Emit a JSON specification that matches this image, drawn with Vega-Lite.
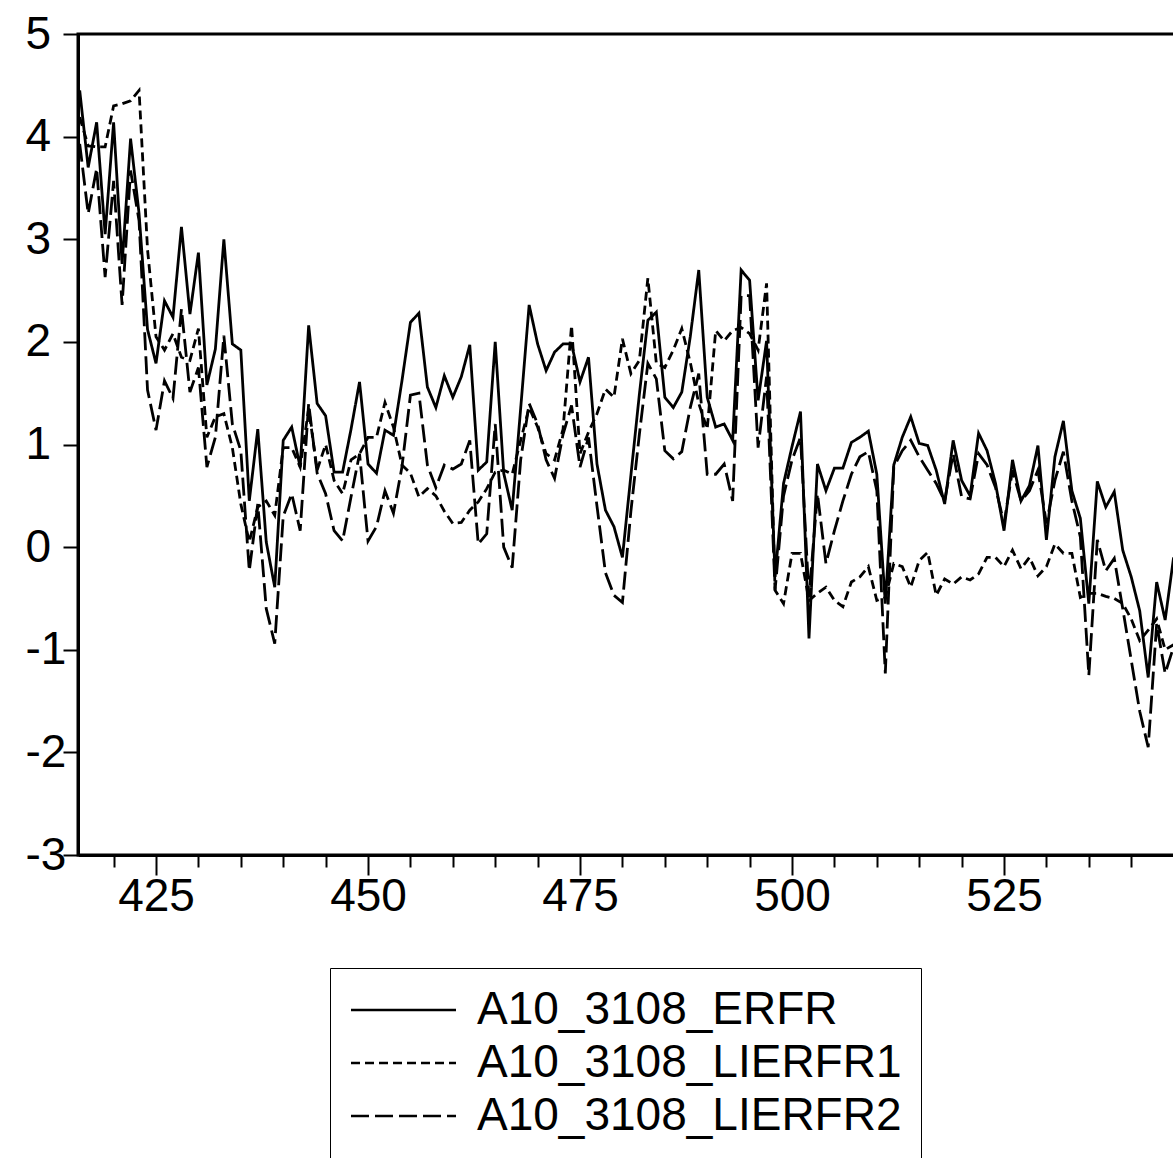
{
"$schema": "https://vega.github.io/schema/vega-lite/v6.json",
"width": 1098, "height": 821,
"autosize": {"type": "none"},
"padding": {"left": 78, "top": 34, "right": -3, "bottom": 303},
"background": "white",
"config": {"view": {"stroke": "black", "strokeWidth": 3}, "font": "Liberation Sans"},
"data": {"values": [
{"obs":416,"A10_3108_ERFR":4.45,"A10_3108_LIERFR1":4.19,"A10_3108_LIERFR2":3.93},
{"obs":417,"A10_3108_ERFR":3.70,"A10_3108_LIERFR1":3.91,"A10_3108_LIERFR2":3.25},
{"obs":418,"A10_3108_ERFR":4.14,"A10_3108_LIERFR1":3.90,"A10_3108_LIERFR2":3.69},
{"obs":419,"A10_3108_ERFR":3.05,"A10_3108_LIERFR1":3.90,"A10_3108_LIERFR2":2.63},
{"obs":420,"A10_3108_ERFR":4.14,"A10_3108_LIERFR1":4.30,"A10_3108_LIERFR2":3.57},
{"obs":421,"A10_3108_ERFR":2.76,"A10_3108_LIERFR1":4.32,"A10_3108_LIERFR2":2.36},
{"obs":422,"A10_3108_ERFR":3.98,"A10_3108_LIERFR1":4.35,"A10_3108_LIERFR2":3.67},
{"obs":423,"A10_3108_ERFR":3.25,"A10_3108_LIERFR1":4.45,"A10_3108_LIERFR2":3.18},
{"obs":424,"A10_3108_ERFR":2.12,"A10_3108_LIERFR1":2.90,"A10_3108_LIERFR2":1.53},
{"obs":425,"A10_3108_ERFR":1.79,"A10_3108_LIERFR1":2.05,"A10_3108_LIERFR2":1.14},
{"obs":426,"A10_3108_ERFR":2.40,"A10_3108_LIERFR1":1.92,"A10_3108_LIERFR2":1.62},
{"obs":427,"A10_3108_ERFR":2.24,"A10_3108_LIERFR1":2.08,"A10_3108_LIERFR2":1.45},
{"obs":428,"A10_3108_ERFR":3.12,"A10_3108_LIERFR1":1.85,"A10_3108_LIERFR2":2.32},
{"obs":429,"A10_3108_ERFR":2.27,"A10_3108_LIERFR1":1.82,"A10_3108_LIERFR2":1.51},
{"obs":430,"A10_3108_ERFR":2.87,"A10_3108_LIERFR1":2.13,"A10_3108_LIERFR2":1.75},
{"obs":431,"A10_3108_ERFR":1.58,"A10_3108_LIERFR1":1.07,"A10_3108_LIERFR2":0.78},
{"obs":432,"A10_3108_ERFR":1.93,"A10_3108_LIERFR1":1.27,"A10_3108_LIERFR2":1.07},
{"obs":433,"A10_3108_ERFR":3.00,"A10_3108_LIERFR1":1.30,"A10_3108_LIERFR2":2.06},
{"obs":434,"A10_3108_ERFR":1.98,"A10_3108_LIERFR1":0.97,"A10_3108_LIERFR2":1.20},
{"obs":435,"A10_3108_ERFR":1.92,"A10_3108_LIERFR1":0.42,"A10_3108_LIERFR2":0.94},
{"obs":436,"A10_3108_ERFR":0.45,"A10_3108_LIERFR1":0.05,"A10_3108_LIERFR2":-0.23},
{"obs":437,"A10_3108_ERFR":1.15,"A10_3108_LIERFR1":0.39,"A10_3108_LIERFR2":0.42},
{"obs":438,"A10_3108_ERFR":0.05,"A10_3108_LIERFR1":0.45,"A10_3108_LIERFR2":-0.60},
{"obs":439,"A10_3108_ERFR":-0.39,"A10_3108_LIERFR1":0.31,"A10_3108_LIERFR2":-0.94},
{"obs":440,"A10_3108_ERFR":1.04,"A10_3108_LIERFR1":0.97,"A10_3108_LIERFR2":0.30},
{"obs":441,"A10_3108_ERFR":1.17,"A10_3108_LIERFR1":0.97,"A10_3108_LIERFR2":0.52},
{"obs":442,"A10_3108_ERFR":0.78,"A10_3108_LIERFR1":0.78,"A10_3108_LIERFR2":0.16},
{"obs":443,"A10_3108_ERFR":2.16,"A10_3108_LIERFR1":1.35,"A10_3108_LIERFR2":1.40},
{"obs":444,"A10_3108_ERFR":1.40,"A10_3108_LIERFR1":0.75,"A10_3108_LIERFR2":0.72},
{"obs":445,"A10_3108_ERFR":1.28,"A10_3108_LIERFR1":1.00,"A10_3108_LIERFR2":0.52},
{"obs":446,"A10_3108_ERFR":0.73,"A10_3108_LIERFR1":0.65,"A10_3108_LIERFR2":0.16},
{"obs":447,"A10_3108_ERFR":0.73,"A10_3108_LIERFR1":0.52,"A10_3108_LIERFR2":0.06},
{"obs":448,"A10_3108_ERFR":1.15,"A10_3108_LIERFR1":0.85,"A10_3108_LIERFR2":0.49},
{"obs":449,"A10_3108_ERFR":1.61,"A10_3108_LIERFR1":0.91,"A10_3108_LIERFR2":0.91},
{"obs":450,"A10_3108_ERFR":0.81,"A10_3108_LIERFR1":1.07,"A10_3108_LIERFR2":0.06},
{"obs":451,"A10_3108_ERFR":0.72,"A10_3108_LIERFR1":1.07,"A10_3108_LIERFR2":0.20},
{"obs":452,"A10_3108_ERFR":1.14,"A10_3108_LIERFR1":1.41,"A10_3108_LIERFR2":0.55},
{"obs":453,"A10_3108_ERFR":1.09,"A10_3108_LIERFR1":1.17,"A10_3108_LIERFR2":0.33},
{"obs":454,"A10_3108_ERFR":1.62,"A10_3108_LIERFR1":0.80,"A10_3108_LIERFR2":0.78},
{"obs":455,"A10_3108_ERFR":2.19,"A10_3108_LIERFR1":0.72,"A10_3108_LIERFR2":1.48},
{"obs":456,"A10_3108_ERFR":2.28,"A10_3108_LIERFR1":0.49,"A10_3108_LIERFR2":1.50},
{"obs":457,"A10_3108_ERFR":1.56,"A10_3108_LIERFR1":0.57,"A10_3108_LIERFR2":0.80},
{"obs":458,"A10_3108_ERFR":1.36,"A10_3108_LIERFR1":0.50,"A10_3108_LIERFR2":0.58},
{"obs":459,"A10_3108_ERFR":1.67,"A10_3108_LIERFR1":0.35,"A10_3108_LIERFR2":0.80},
{"obs":460,"A10_3108_ERFR":1.46,"A10_3108_LIERFR1":0.23,"A10_3108_LIERFR2":0.76},
{"obs":461,"A10_3108_ERFR":1.66,"A10_3108_LIERFR1":0.24,"A10_3108_LIERFR2":0.81},
{"obs":462,"A10_3108_ERFR":1.97,"A10_3108_LIERFR1":0.36,"A10_3108_LIERFR2":1.04},
{"obs":463,"A10_3108_ERFR":0.75,"A10_3108_LIERFR1":0.44,"A10_3108_LIERFR2":0.03},
{"obs":464,"A10_3108_ERFR":0.83,"A10_3108_LIERFR1":0.57,"A10_3108_LIERFR2":0.13},
{"obs":465,"A10_3108_ERFR":2.00,"A10_3108_LIERFR1":0.73,"A10_3108_LIERFR2":1.20},
{"obs":466,"A10_3108_ERFR":0.72,"A10_3108_LIERFR1":0.75,"A10_3108_LIERFR2":0.00},
{"obs":467,"A10_3108_ERFR":0.36,"A10_3108_LIERFR1":0.71,"A10_3108_LIERFR2":-0.20},
{"obs":468,"A10_3108_ERFR":1.35,"A10_3108_LIERFR1":1.04,"A10_3108_LIERFR2":0.85},
{"obs":469,"A10_3108_ERFR":2.36,"A10_3108_LIERFR1":1.36,"A10_3108_LIERFR2":1.40},
{"obs":470,"A10_3108_ERFR":1.98,"A10_3108_LIERFR1":1.17,"A10_3108_LIERFR2":1.20},
{"obs":471,"A10_3108_ERFR":1.72,"A10_3108_LIERFR1":0.91,"A10_3108_LIERFR2":0.85},
{"obs":472,"A10_3108_ERFR":1.90,"A10_3108_LIERFR1":0.85,"A10_3108_LIERFR2":0.67},
{"obs":473,"A10_3108_ERFR":1.98,"A10_3108_LIERFR1":1.15,"A10_3108_LIERFR2":1.10},
{"obs":474,"A10_3108_ERFR":1.98,"A10_3108_LIERFR1":2.16,"A10_3108_LIERFR2":1.38},
{"obs":475,"A10_3108_ERFR":1.61,"A10_3108_LIERFR1":0.91,"A10_3108_LIERFR2":0.78},
{"obs":476,"A10_3108_ERFR":1.85,"A10_3108_LIERFR1":1.12,"A10_3108_LIERFR2":1.07},
{"obs":477,"A10_3108_ERFR":0.81,"A10_3108_LIERFR1":1.30,"A10_3108_LIERFR2":0.40},
{"obs":478,"A10_3108_ERFR":0.36,"A10_3108_LIERFR1":1.54,"A10_3108_LIERFR2":-0.25},
{"obs":479,"A10_3108_ERFR":0.20,"A10_3108_LIERFR1":1.46,"A10_3108_LIERFR2":-0.47},
{"obs":480,"A10_3108_ERFR":-0.10,"A10_3108_LIERFR1":2.03,"A10_3108_LIERFR2":-0.54},
{"obs":481,"A10_3108_ERFR":0.70,"A10_3108_LIERFR1":1.69,"A10_3108_LIERFR2":0.35},
{"obs":482,"A10_3108_ERFR":1.49,"A10_3108_LIERFR1":1.82,"A10_3108_LIERFR2":1.10},
{"obs":483,"A10_3108_ERFR":2.21,"A10_3108_LIERFR1":2.62,"A10_3108_LIERFR2":1.79},
{"obs":484,"A10_3108_ERFR":2.29,"A10_3108_LIERFR1":1.79,"A10_3108_LIERFR2":1.64},
{"obs":485,"A10_3108_ERFR":1.46,"A10_3108_LIERFR1":1.75,"A10_3108_LIERFR2":0.94},
{"obs":486,"A10_3108_ERFR":1.36,"A10_3108_LIERFR1":1.92,"A10_3108_LIERFR2":0.86},
{"obs":487,"A10_3108_ERFR":1.51,"A10_3108_LIERFR1":2.13,"A10_3108_LIERFR2":0.93},
{"obs":488,"A10_3108_ERFR":2.05,"A10_3108_LIERFR1":1.80,"A10_3108_LIERFR2":1.36},
{"obs":489,"A10_3108_ERFR":2.70,"A10_3108_LIERFR1":1.40,"A10_3108_LIERFR2":1.69},
{"obs":490,"A10_3108_ERFR":1.46,"A10_3108_LIERFR1":1.15,"A10_3108_LIERFR2":0.71},
{"obs":491,"A10_3108_ERFR":1.17,"A10_3108_LIERFR1":2.11,"A10_3108_LIERFR2":0.71},
{"obs":492,"A10_3108_ERFR":1.20,"A10_3108_LIERFR1":2.01,"A10_3108_LIERFR2":0.81},
{"obs":493,"A10_3108_ERFR":1.04,"A10_3108_LIERFR1":2.11,"A10_3108_LIERFR2":0.45},
{"obs":494,"A10_3108_ERFR":2.70,"A10_3108_LIERFR1":2.14,"A10_3108_LIERFR2":2.45},
{"obs":495,"A10_3108_ERFR":2.60,"A10_3108_LIERFR1":2.08,"A10_3108_LIERFR2":2.45},
{"obs":496,"A10_3108_ERFR":1.43,"A10_3108_LIERFR1":1.92,"A10_3108_LIERFR2":0.97},
{"obs":497,"A10_3108_ERFR":2.01,"A10_3108_LIERFR1":2.57,"A10_3108_LIERFR2":1.66},
{"obs":498,"A10_3108_ERFR":-0.29,"A10_3108_LIERFR1":-0.42,"A10_3108_LIERFR2":-0.42},
{"obs":499,"A10_3108_ERFR":0.62,"A10_3108_LIERFR1":-0.55,"A10_3108_LIERFR2":0.50},
{"obs":500,"A10_3108_ERFR":0.98,"A10_3108_LIERFR1":-0.06,"A10_3108_LIERFR2":0.85},
{"obs":501,"A10_3108_ERFR":1.32,"A10_3108_LIERFR1":-0.06,"A10_3108_LIERFR2":1.07},
{"obs":502,"A10_3108_ERFR":-0.89,"A10_3108_LIERFR1":-0.52,"A10_3108_LIERFR2":-0.49},
{"obs":503,"A10_3108_ERFR":0.81,"A10_3108_LIERFR1":-0.45,"A10_3108_LIERFR2":0.52},
{"obs":504,"A10_3108_ERFR":0.55,"A10_3108_LIERFR1":-0.39,"A10_3108_LIERFR2":-0.16},
{"obs":505,"A10_3108_ERFR":0.77,"A10_3108_LIERFR1":-0.52,"A10_3108_LIERFR2":0.16},
{"obs":506,"A10_3108_ERFR":0.77,"A10_3108_LIERFR1":-0.58,"A10_3108_LIERFR2":0.45},
{"obs":507,"A10_3108_ERFR":1.02,"A10_3108_LIERFR1":-0.34,"A10_3108_LIERFR2":0.71},
{"obs":508,"A10_3108_ERFR":1.07,"A10_3108_LIERFR1":-0.29,"A10_3108_LIERFR2":0.88},
{"obs":509,"A10_3108_ERFR":1.13,"A10_3108_LIERFR1":-0.19,"A10_3108_LIERFR2":0.93},
{"obs":510,"A10_3108_ERFR":0.71,"A10_3108_LIERFR1":-0.52,"A10_3108_LIERFR2":0.55},
{"obs":511,"A10_3108_ERFR":-0.55,"A10_3108_LIERFR1":-0.49,"A10_3108_LIERFR2":-1.23},
{"obs":512,"A10_3108_ERFR":0.80,"A10_3108_LIERFR1":-0.16,"A10_3108_LIERFR2":0.78},
{"obs":513,"A10_3108_ERFR":1.07,"A10_3108_LIERFR1":-0.19,"A10_3108_LIERFR2":0.94},
{"obs":514,"A10_3108_ERFR":1.27,"A10_3108_LIERFR1":-0.39,"A10_3108_LIERFR2":1.04},
{"obs":515,"A10_3108_ERFR":1.01,"A10_3108_LIERFR1":-0.13,"A10_3108_LIERFR2":0.88},
{"obs":516,"A10_3108_ERFR":0.99,"A10_3108_LIERFR1":-0.05,"A10_3108_LIERFR2":0.75},
{"obs":517,"A10_3108_ERFR":0.75,"A10_3108_LIERFR1":-0.47,"A10_3108_LIERFR2":0.62},
{"obs":518,"A10_3108_ERFR":0.42,"A10_3108_LIERFR1":-0.31,"A10_3108_LIERFR2":0.45},
{"obs":519,"A10_3108_ERFR":1.04,"A10_3108_LIERFR1":-0.36,"A10_3108_LIERFR2":0.91},
{"obs":520,"A10_3108_ERFR":0.65,"A10_3108_LIERFR1":-0.29,"A10_3108_LIERFR2":0.49},
{"obs":521,"A10_3108_ERFR":0.50,"A10_3108_LIERFR1":-0.32,"A10_3108_LIERFR2":0.47},
{"obs":522,"A10_3108_ERFR":1.11,"A10_3108_LIERFR1":-0.26,"A10_3108_LIERFR2":0.91},
{"obs":523,"A10_3108_ERFR":0.94,"A10_3108_LIERFR1":-0.10,"A10_3108_LIERFR2":0.80},
{"obs":524,"A10_3108_ERFR":0.62,"A10_3108_LIERFR1":-0.10,"A10_3108_LIERFR2":0.58},
{"obs":525,"A10_3108_ERFR":0.16,"A10_3108_LIERFR1":-0.19,"A10_3108_LIERFR2":0.23},
{"obs":526,"A10_3108_ERFR":0.85,"A10_3108_LIERFR1":-0.03,"A10_3108_LIERFR2":0.75},
{"obs":527,"A10_3108_ERFR":0.45,"A10_3108_LIERFR1":-0.21,"A10_3108_LIERFR2":0.45},
{"obs":528,"A10_3108_ERFR":0.60,"A10_3108_LIERFR1":-0.10,"A10_3108_LIERFR2":0.55},
{"obs":529,"A10_3108_ERFR":0.99,"A10_3108_LIERFR1":-0.28,"A10_3108_LIERFR2":0.75},
{"obs":530,"A10_3108_ERFR":0.07,"A10_3108_LIERFR1":-0.19,"A10_3108_LIERFR2":0.23},
{"obs":531,"A10_3108_ERFR":0.88,"A10_3108_LIERFR1":0.03,"A10_3108_LIERFR2":0.65},
{"obs":532,"A10_3108_ERFR":1.23,"A10_3108_LIERFR1":-0.06,"A10_3108_LIERFR2":0.93},
{"obs":533,"A10_3108_ERFR":0.55,"A10_3108_LIERFR1":-0.06,"A10_3108_LIERFR2":0.45},
{"obs":534,"A10_3108_ERFR":0.28,"A10_3108_LIERFR1":-0.49,"A10_3108_LIERFR2":0.10},
{"obs":535,"A10_3108_ERFR":-0.55,"A10_3108_LIERFR1":-0.45,"A10_3108_LIERFR2":-1.25},
{"obs":536,"A10_3108_ERFR":0.64,"A10_3108_LIERFR1":-0.45,"A10_3108_LIERFR2":0.07},
{"obs":537,"A10_3108_ERFR":0.39,"A10_3108_LIERFR1":-0.48,"A10_3108_LIERFR2":-0.23},
{"obs":538,"A10_3108_ERFR":0.54,"A10_3108_LIERFR1":-0.50,"A10_3108_LIERFR2":-0.11},
{"obs":539,"A10_3108_ERFR":-0.03,"A10_3108_LIERFR1":-0.55,"A10_3108_LIERFR2":-0.60},
{"obs":540,"A10_3108_ERFR":-0.29,"A10_3108_LIERFR1":-0.70,"A10_3108_LIERFR2":-1.10},
{"obs":541,"A10_3108_ERFR":-0.62,"A10_3108_LIERFR1":-0.91,"A10_3108_LIERFR2":-1.60},
{"obs":542,"A10_3108_ERFR":-1.27,"A10_3108_LIERFR1":-0.81,"A10_3108_LIERFR2":-1.95},
{"obs":543,"A10_3108_ERFR":-0.34,"A10_3108_LIERFR1":-0.70,"A10_3108_LIERFR2":-0.75},
{"obs":544,"A10_3108_ERFR":-0.71,"A10_3108_LIERFR1":-1.00,"A10_3108_LIERFR2":-1.23},
{"obs":545,"A10_3108_ERFR":-0.10,"A10_3108_LIERFR1":-0.95,"A10_3108_LIERFR2":-0.97}
]},
"transform": [{"fold": ["A10_3108_ERFR","A10_3108_LIERFR1","A10_3108_LIERFR2"], "as": ["series","value"]}],
"mark": {"type": "line", "color": "black", "strokeWidth": 2.8, "clip": true},
"encoding": {
  "x": {"field": "obs", "type": "quantitative",
    "scale": {"domain": [415.8, 545.28], "nice": false, "zero": false},
    "axis": {"title": null, "values": [420,425,430,435,440,445,450,455,460,465,470,475,480,485,490,495,500,505,510,515,520,525,530,535,540,545],
      "labelExpr": "datum.value % 25 === 0 ? datum.label : ''",
      "tickSize": {"condition": {"test": "datum.value % 25 === 0", "value": 20}, "value": 12},
      "tickWidth": 2, "tickColor": "black", "domainColor": "black", "domainWidth": 3,
      "labelFontSize": 46, "labelColor": "black", "labelFont": "Liberation Sans", "labelPadding": -1, "labelFlush": false, "labelOverlap": false, "grid": false}},
  "y": {"field": "value", "type": "quantitative",
    "scale": {"domain": [-3, 5], "nice": false, "zero": false},
    "axis": {"title": null, "values": [-3,-2,-1,0,1,2,3,4,5], "labelExpr": "'' + datum.value", "tickSize": 15, "tickWidth": 2, "tickColor": "black",
      "domainColor": "black", "domainWidth": 3, "labelFontSize": 46, "labelColor": "black", "labelFont": "Liberation Sans",
      "labelAlign": "left", "labelPadding": 38, "labelFlush": false, "labelOverlap": false, "grid": false}},
  "strokeDash": {"field": "series", "type": "nominal",
    "scale": {"domain": ["A10_3108_ERFR","A10_3108_LIERFR1","A10_3108_LIERFR2"], "range": [[1,0],[9,5],[18,6]]},
    "legend": {"title": null, "orient": "none", "legendX": 252, "legendY": 934, "direction": "vertical",
      "strokeColor": "black", "padding": 19, "symbolType": "M-1,0H4", "symbolSize": 1764, "symbolStrokeWidth": 2.5,
      "symbolStrokeColor": "black", "symbolFillColor": "transparent", "labelFontSize": 46, "labelFont": "Liberation Sans", "labelColor": "black",
      "labelOffset": 82, "rowPadding": 7, "labelLimit": 800}}
}
}
